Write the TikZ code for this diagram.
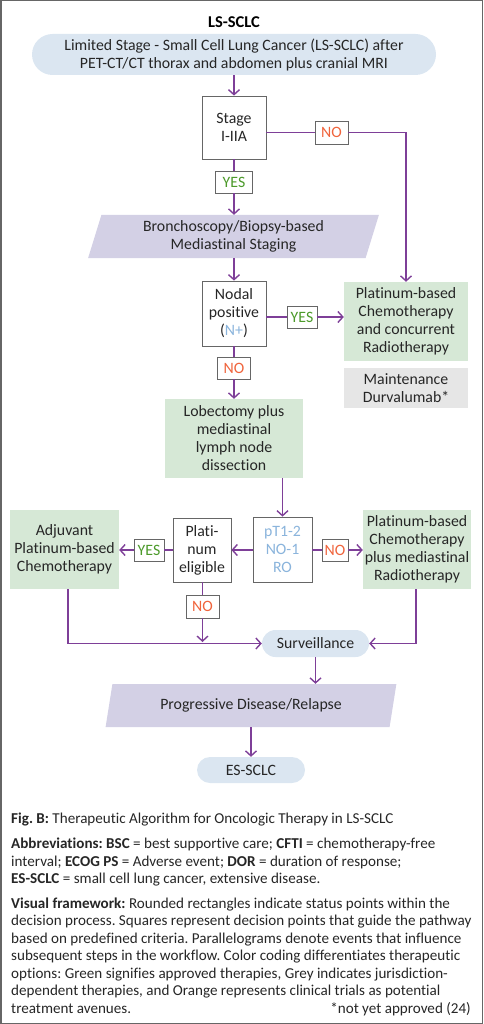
\documentclass[tikz,border=0pt]{standalone}
\usepackage{fontspec}
\setmainfont{Carlito}[Ligatures={NoCommon,NoRare,NoDiscretionary}]
\usetikzlibrary{arrows.meta,shapes.geometric}
\frenchspacing
\definecolor{pur}{RGB}{126,63,152}
\definecolor{txt}{RGB}{38,38,38}
\definecolor{bord}{RGB}{102,102,102}
\definecolor{bluef}{RGB}{219,230,241}
\definecolor{lavf}{RGB}{211,208,229}
\definecolor{grnf}{RGB}{214,232,214}
\definecolor{greyf}{RGB}{230,230,230}
\definecolor{yesc}{RGB}{76,154,42}
\definecolor{noc}{RGB}{240,100,60}
\definecolor{nblue}{RGB}{138,180,220}
\begin{document}
\frenchspacing
\begin{tikzpicture}[x=1pt,y=-1pt,
  every node/.style={text=txt, font=\fontsize{15.8}{18}\selectfont, align=center, inner sep=0pt},
  decbox/.style={draw=bord, line width=0.8pt, fill=white},
  lbl/.style={draw=bord, line width=0.8pt, fill=white, minimum height=22pt},
  yeslbl/.style={lbl, text=yesc},
  nolbl/.style={lbl, text=noc},
  grn/.style={fill=grnf},
  pill/.style={fill=bluef, rounded corners=#1},
  para/.style={trapezium, trapezium stretches=true, fill=lavf},
  conn/.style={draw=pur, line width=1.4pt},
  arr/.style={conn, -{Straight Barb[length=5pt,width=11pt]}},
  captext/.style={anchor=base west, align=left, font=\fontsize{15.1}{17}\selectfont}
]
\useasboundingbox (0,0) rectangle (483,1024);
\draw[bord, line width=1.5pt] (0.75,0.75) rectangle (482.25,1023.25);

% nodes
\node[font=\fontsize{16.5}{18}\selectfont\bfseries, text=black] (title) at (234,22) {LS-SCLC};
\node[pill=20.5pt, minimum width=404pt, minimum height=41pt] (top) at (234,54.5)
  {Limited Stage - Small Cell Lung Cancer (LS-SCLC) after\\PET-CT/CT thorax and abdomen plus cranial MRI};
\node[decbox, minimum width=64pt, minimum height=63pt] (stage) at (234,127.5) {Stage\\I-IIA};
\node[yeslbl, minimum width=37pt] (yes1) at (234,182) {YES};
\node[nolbl, minimum width=33pt, minimum height=23pt] (no1) at (331.5,132.5) {NO};
\node[para, trapezium left angle=74, trapezium right angle=106, minimum width=291pt, minimum height=43pt] (bronch) at (233.5,236.5)
  {Bronchoscopy/Biopsy-based\\Mediastinal Staging};
\node[decbox, minimum width=64pt, minimum height=65pt] (nodal) at (234,313.5)
  {Nodal\\positive\\(\textcolor{nblue}{N+})};
\node[yeslbl, minimum width=30pt] (yes2) at (302,317) {YES};
\node[grn, minimum width=124pt, minimum height=79pt] (chemort) at (406,321.5)
  {Platinum-based\\Chemotherapy\\and concurrent\\Radiotherapy};
\node[fill=greyf, minimum width=124pt, minimum height=40pt] (maint) at (406,388)
  {Maintenance\\Durvalumab*};
\node[nolbl, minimum width=33pt] (no2) at (234,368) {NO};
\node[grn, minimum width=138pt, minimum height=79pt] (lobe) at (234,438.5)
  {Lobectomy plus\\mediastinal\\lymph node\\dissection};
\node[decbox, minimum width=59pt, minimum height=65pt, text=nblue] (pt) at (282.5,549.5)
  {pT1-2\\NO-1\\RO};
\node[decbox, minimum width=58pt, minimum height=64pt] (plati) at (202,550)
  {Plati-\\num\\eligible};
\node[yeslbl, minimum width=30pt] (yes3) at (149,550) {YES};
\node[nolbl, minimum width=26pt] (no3) at (335,550) {NO};
\node[grn, minimum width=108pt, minimum height=79pt] (rgreen) at (417,549.5)
  {Platinum-based\\Chemotherapy\\plus mediastinal\\Radiotherapy};
\node[grn, minimum width=109pt, minimum height=79pt] (lgreen) at (64.5,549.5)
  {Adjuvant\\Platinum-based\\Chemotherapy};
\node[nolbl, minimum width=33pt, minimum height=23pt] (no4) at (202.5,606.5) {NO};
\node[pill=13.5pt, minimum width=107pt, minimum height=27pt] (surv) at (315.5,643.5) {Surveillance};
\node[para, trapezium left angle=72, trapezium right angle=108, minimum width=291pt, minimum height=43pt] (prog) at (251,705.5)
  {Progressive Disease/Relapse};
\node[pill=13pt, minimum width=108pt, minimum height=26pt] (es) at (251,770) {ES-SCLC};

\coordinate (nocorner) at (406,132.5);
\coordinate (no4end) at (202.5,642);

% connectors
\draw[arr] (top.south) -- (stage.north);
\draw[conn] (stage.south) -- (yes1.north);
\draw[arr] (yes1.south) -- (yes1.south |- bronch.north);
\draw[conn] (stage.east |- no1) -- (no1.west);
\draw[arr] (no1.east) -- (nocorner) -- (chemort.north);
\draw[arr] (yes1.south |- bronch.south) -- (nodal.north);
\draw[conn] (nodal.east |- yes2) -- (yes2.west);
\draw[arr] (yes2.east) -- (chemort.west |- yes2);
\draw[conn] (nodal.south) -- (no2.north);
\draw[arr] (no2.south) -- (lobe.north);
\draw[arr] (pt.north |- lobe.south) -- (pt.north);
\draw[arr] (pt.west |- plati) -- (plati.east);
\draw[conn] (pt.east |- no3) -- (no3.west);
\draw[arr] (no3.east) -- (rgreen.west |- no3);
\draw[conn] (plati.west) -- (yes3.east);
\draw[arr] (yes3.west) -- (lgreen.east |- yes3);
\draw[conn] (plati.south -| no4) -- (no4.north);
\draw[arr] (no4.south) -- (no4end);
\draw[arr] (68,589) -- (68,643.5) -- (surv.west);
\draw[arr] (416,589) -- (416,643.5) -- (surv.east);
\draw[arr] (surv.south) -- (surv.south |- prog.north);
\draw[arr] (es.north |- prog.south) -- (es.north);

% caption
\node[captext] (c1) at (11,823) {\textbf{Fig. B:} Therapeutic Algorithm for Oncologic Therapy in LS-SCLC};
\node[captext] (c2) at (11,848.5) {\textbf{Abbreviations: BSC} = best supportive care; \textbf{CFTI} = chemotherapy-free};
\node[captext] (c3) at (11,866) {interval; \textbf{ECOG PS} = Adverse event; \textbf{DOR} = duration of response;};
\node[captext] (c4) at (11,883.5) {\textbf{ES-SCLC} = small cell lung cancer, extensive disease.};
\node[captext] (c5) at (11,908) {\textbf{Visual framework:} Rounded rectangles indicate status points within the};
\node[captext] (c6) at (11,925.5) {decision process. Squares represent decision points that guide the pathway};
\node[captext] (c7) at (11,943) {based on predefined criteria. Parallelograms denote events that influence};
\node[captext] (c8) at (11,960.5) {subsequent steps in the workflow. Color coding differentiates therapeutic};
\node[captext] (c9) at (11,978) {options: Green signifies approved therapies, Grey indicates jurisdiction-};
\node[captext] (c10) at (11,995.5) {dependent therapies, and Orange represents clinical trials as potential};
\node[captext] (c11) at (11,1013) {treatment avenues.};
\node[captext, anchor=base east] (c12) at (471,1013) {*not yet approved (24)};
\end{tikzpicture}
\end{document}
